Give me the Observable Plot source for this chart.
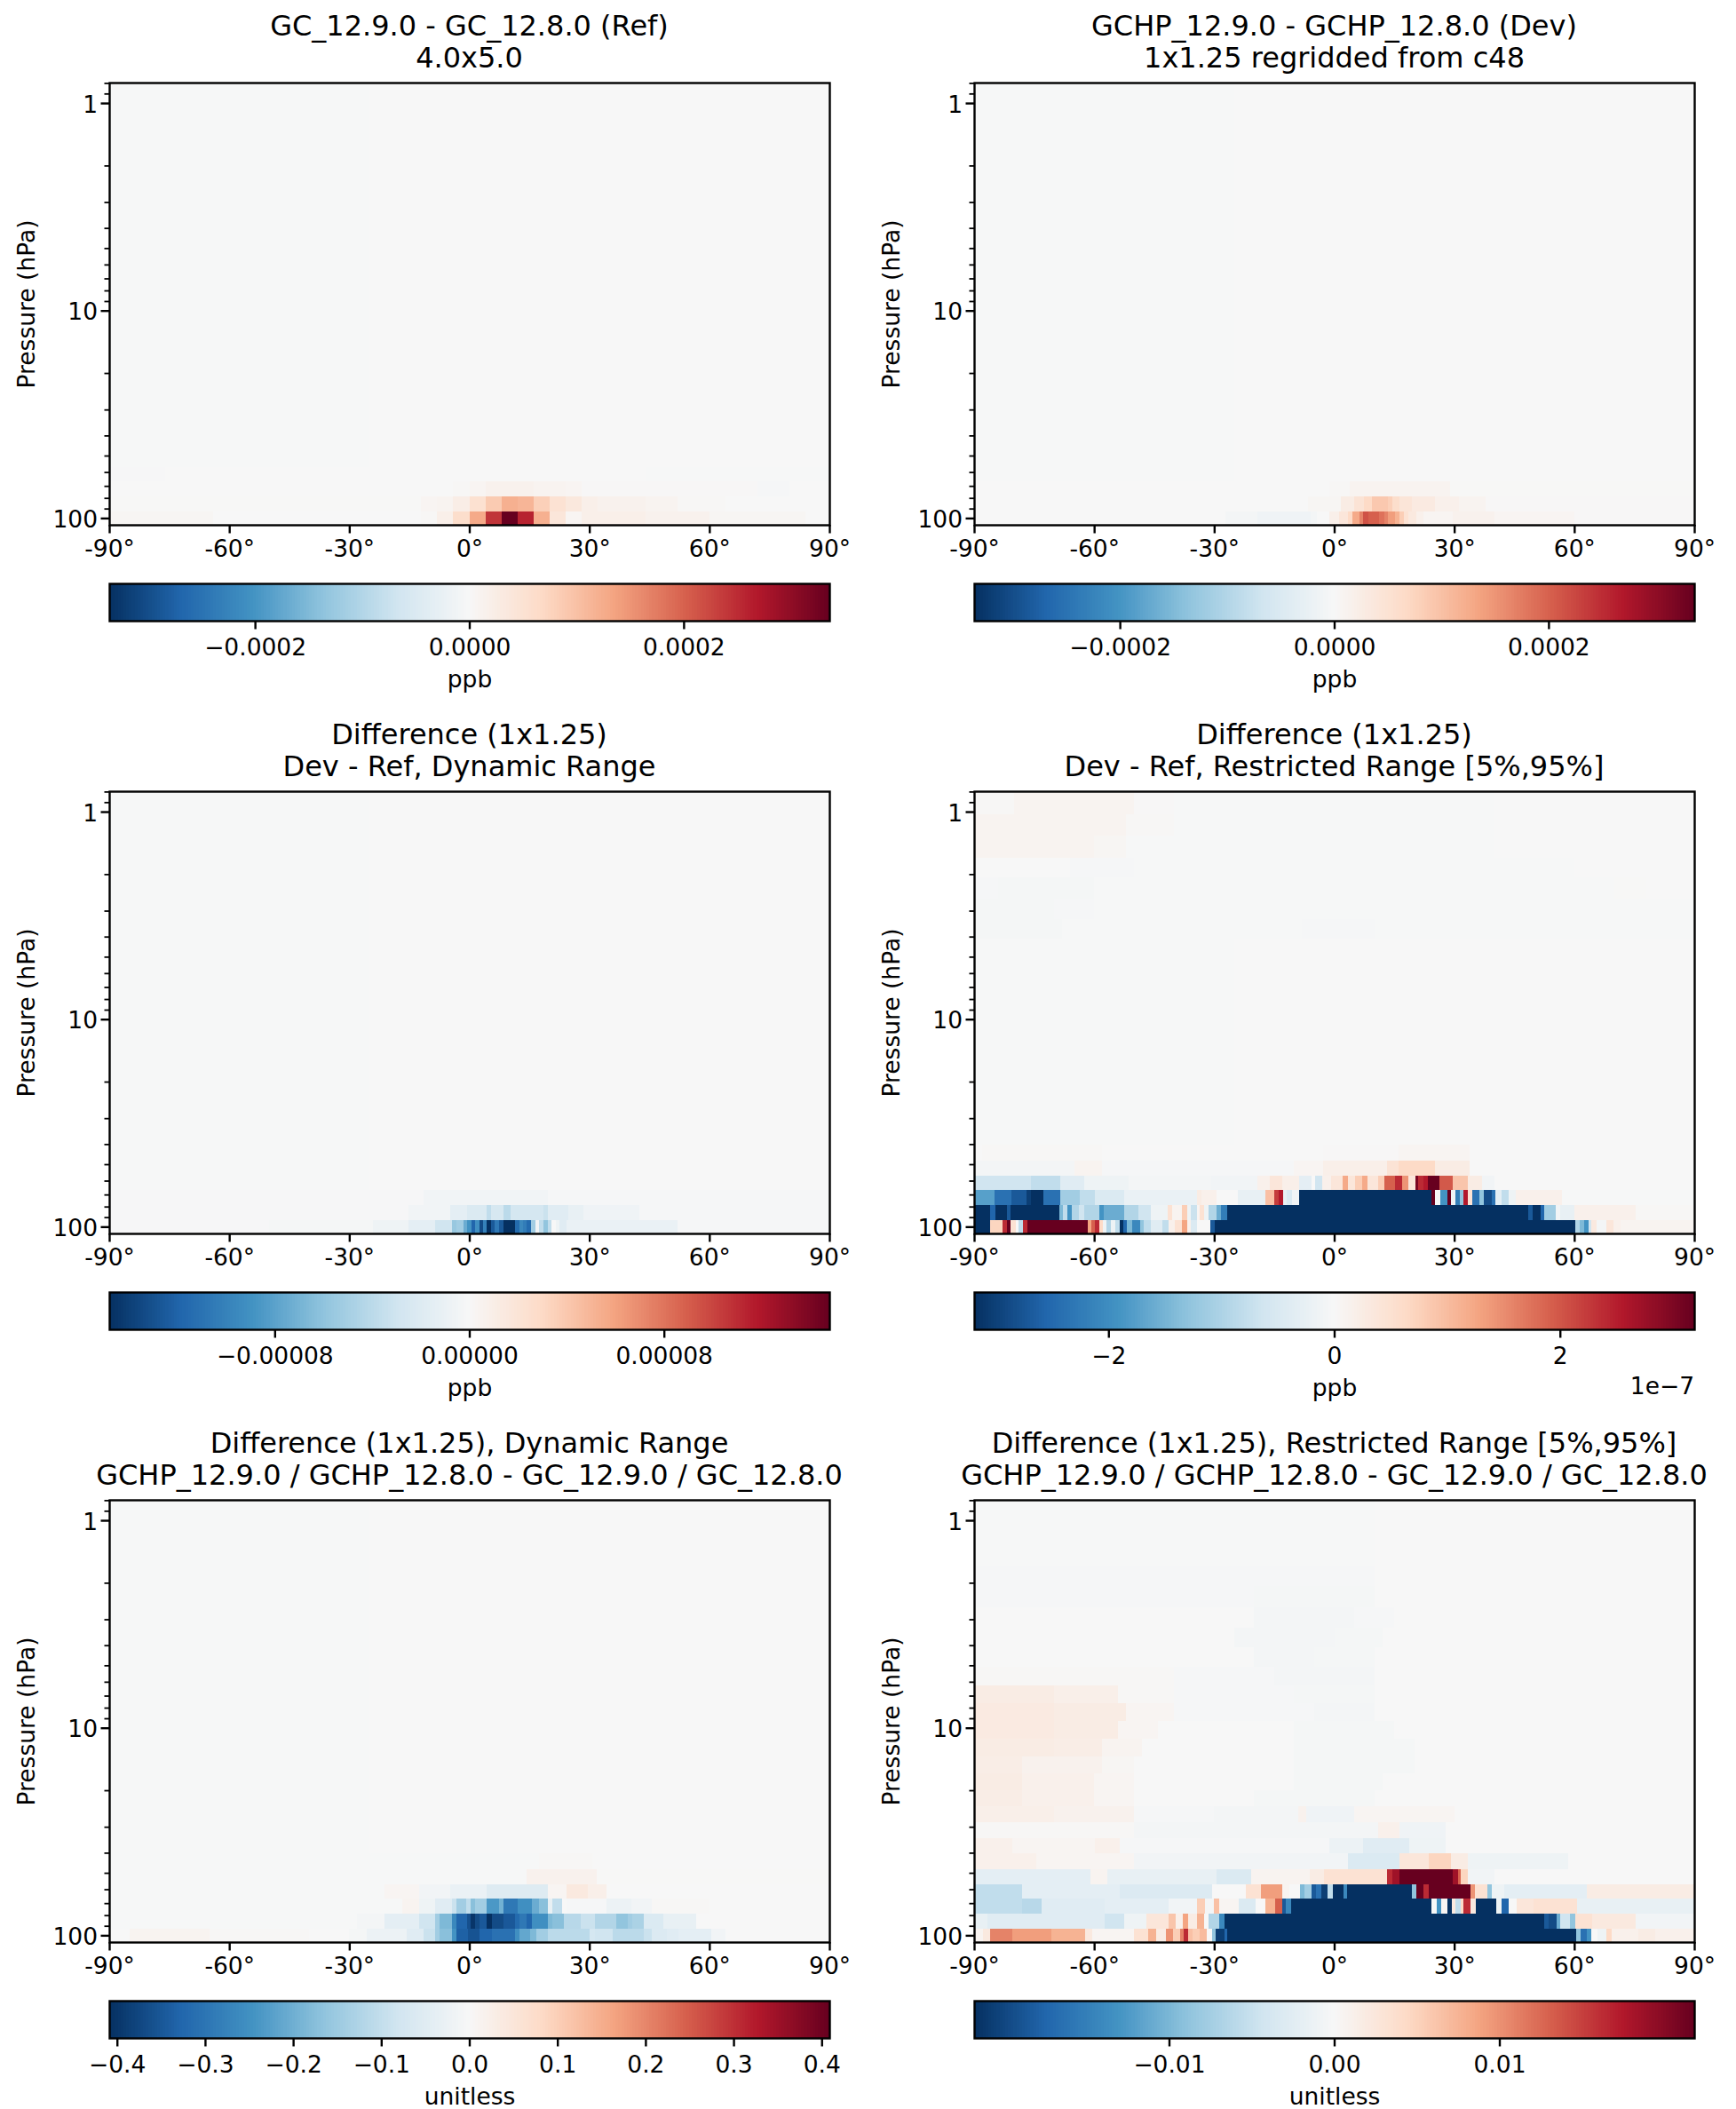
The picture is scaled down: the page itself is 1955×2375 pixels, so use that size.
<!DOCTYPE html>
<html><head><meta charset="utf-8">
<script src="https://cdn.jsdelivr.net/npm/d3@7"></script>
<script src="https://cdn.jsdelivr.net/npm/@observablehq/plot@0.6"></script>
<style>
html,body{margin:0;padding:0;background:#fff}
#fig{position:relative;width:1955px;height:2375px;font-family:"DejaVu Sans";color:#000;overflow:hidden}
#fig svg{position:absolute;max-width:none;overflow:visible;background:transparent}
.title{position:absolute;width:1100px;text-align:center;font-size:32px;line-height:36px;white-space:nowrap}
.offset{position:absolute;font-size:26.5px;text-align:right}
</style></head><body><div id="fig"></div>
<script>
// Pressure level edges (hPa), bottom of the plot first
const pressureEdges = [107.8,93,78.6,66.5,56.8,48.2,40.4,33.9,28.5,23.9,20,16.6,13.7,11.29,9.27,7.61,6.25,5.08,4.08,3.3,2.62,2.08,1.67,1.3,1.03,0.797];
const latTicks = [-90,-60,-30,0,30,60,90];
const majorP = [1,10,100];
const minorP = [0.8,0.9,2,3,4,5,6,7,8,9,20,30,40,50,60,70,80,90];
const colorStops = [-100,-80,-60,-40,-20,0,20,40,60,80,100];
const colorRange = ["#053061","#2166ac","#4393c3","#92c5de","#d1e5f0","#f7f7f7","#fddbc7","#f4a582","#d6604d","#b2182b","#67001f"];

// Runs per level: [start latitude, value as percent of the panel's colour limit]
const quietRow = [[-90,-0.5],[-25,-0.25],[25,0.1]];
const refRows = {
 0:[[-90,1.5],[-64,0.2],[-12,1],[-8,6],[-4,18],[0,38],[4,72],[8,100],[12,77],[16,36],[20,12],[24,2],[28,6],[44,4],[60,1.5],[84,0]],
 1:[[-90,0.3],[-12,2],[-8,3],[-4,7],[0,16],[4,26],[8,36],[12,34],[16,24],[20,15],[24,11],[28,6],[32,4],[44,3],[52,1],[64,0]],
 2:[[-90,-0.2],[-4,1],[0,2],[4,4],[16,3],[24,2],[28,0.5],[72,-0.8],[80,0]],
 3:[[-90,-0.7],[-76,0.1],[44,-0.3]]
};
const devRows = {
 0:[[-90,0],[-27.2,-2],[-19.1,-4],[-5.8,-2],[-4.3,0],[-1.3,6],[1.3,12],[3.5,20],[4.6,38],[6.4,50],[7.3,64],[8.6,60],[11.2,55],[12.6,50],[13.5,42],[15.3,35],[16.4,25],[17.5,15],[18.6,10],[20.5,5],[22.3,2],[29.7,4],[40,2],[60,0.5]],
 1:[[-90,0],[-6.5,1.5],[1.6,8],[5,14],[7.5,20],[9.4,27],[13.5,24],[14.6,18],[16.4,13],[19.4,9],[25.3,5],[31.2,3],[37.8,0.5]],
 2:[[-90,-0.2],[-1.3,1],[3.8,3],[29,0.3]]
};
const dynRows = {
 0:[[-90,-0.7],[-50,-1.5],[-24,-5],[-15.2,-10],[-8.5,-20],[-4.4,-38],[-3.3,-35],[-1.5,-50],[-0.5,-60],[0.5,-80],[1.5,-62],[2.6,-90],[3.5,-68],[4.4,-100],[5.5,-85],[6.4,-72],[7.4,-85],[8.5,-100],[11.5,-78],[12.6,-65],[13.5,-70],[14.4,-78],[15.5,-35],[16.5,-3],[17.4,-25],[18.5,-40],[19.6,-25],[20.5,0],[21.6,-5],[22.5,-12],[24.4,-7],[52.1,-1]],
 1:[[-90,-0.6],[-15.2,-3],[-4.8,-10],[-0.5,-15],[4.4,-25],[5.5,-17],[8.5,-27],[10.3,-18],[18.5,-22],[19.6,-12],[24.8,-8],[28.5,-4],[42.5,-1]],
 2:[[-90,-0.7],[-11.5,-3],[19.6,-1]]
};
const resRows = {
 0:[[-90,-100],[-85.9,22],[-82.8,75],[-81.8,100],[-80.9,15],[-79.6,0],[-78.8,-25],[-77.8,75],[-76.7,100],[-61.7,40],[-60.8,60],[-59.8,75],[-58.7,20],[-57.8,-5],[-56.9,-30],[-55.9,-5],[-54.7,-25],[-53.7,-100],[-52.7,-80],[-51.8,-45],[-50.5,-65],[-48.6,-40],[-47.7,-25],[-45.9,-12],[-42.9,-25],[-41.4,5],[-39.8,15],[-38,40],[-36.8,5],[-35.8,-15],[-34.3,0],[-30.9,-85],[-29.8,-100],[60.3,-30],[61.3,-45],[62.5,-60],[63.5,-20],[64.3,10],[65.5,-2],[68,12],[69.8,5],[71.6,3]],
 1:[[-90,-100],[-85.9,-80],[-84.6,-100],[-81.8,-85],[-80.9,-100],[-68.7,-45],[-67.7,-25],[-66.6,-60],[-65.6,-30],[-63.9,-20],[-62.4,-30],[-58.7,-60],[-57.5,-50],[-52.6,-30],[-49,-20],[-45.9,-5],[-41.6,15],[-40.4,3],[-38,25],[-36.8,-5],[-35.8,-22],[-34.3,2],[-33.7,15],[-32.5,-5],[-31.3,-30],[-29.5,-50],[-28.2,-70],[-26.8,-100],[48.5,-85],[49.5,-100],[51.5,-80],[52.5,-35],[55.4,-3],[56.4,-8],[60,5],[75.3,1]],
 2:[[-90,-55],[-84.9,-75],[-80.6,-85],[-77,-95],[-75.8,-100],[-72.7,-75],[-68.4,-35],[-63.6,-25],[-59.9,-15],[-52.6,-7],[-34.3,8],[-33.1,5],[-29.5,0],[-24,-8],[-17.3,30],[-14.9,70],[-13.9,80],[-12.8,-8],[-11.8,-15],[-10.6,-3],[-8.8,-100],[24.4,100],[25.3,0],[26.6,-60],[28.4,100],[29.2,-5],[30.2,-70],[31.4,-40],[32.3,80],[33.3,15],[34.5,-75],[36.3,-40],[37.5,-90],[39.4,-75],[40.3,-10],[41.8,-25],[43.6,-5],[45.4,5],[57,-0.5]],
 3:[[-90,-20],[-75.8,-25],[-68.4,-12],[-62.4,-5],[-51.4,-2],[-30.7,-3],[-19.1,5],[-16,12],[-13,6],[-8.8,-10],[-5.7,0],[-4.7,-20],[-2.9,5],[-0.8,12],[2.2,38],[3.4,12],[5.3,25],[7.1,38],[8.3,12],[11,25],[12.6,60],[15.2,75],[17,45],[18.6,12],[20.2,95],[21,75],[22.3,80],[23.5,100],[26.3,62],[29.6,28],[33.3,8],[36.9,-3],[40,0]],
 4:[[-90,-2],[-65,3],[-58,-1],[-10,2],[-2.7,6],[13.2,14],[16.2,20],[25.3,8],[33.9,0]],
 5:[[-90,0],[-88,1],[-58,0],[-2.7,0.5],[16,2],[33.9,-0.2]],
 18:[[-90,-1.5],[-68,-0.5],[-8,-0.8],[10,-0.3]],
 19:[[-90,-1.5],[-70,-1],[-60,-0.5]],
 20:[[-90,-1],[-84,-1.5],[-60,-0.5],[70,0.3],[78,0]],
 21:[[-90,0],[-66,-0.8],[-50,-0.3],[60,0.2]],
 22:[[-90,3],[-60,1.5],[-52,-0.3],[40,0.2]],
 23:[[-90,3],[-52,1],[-40,-0.3],[40,0.2]],
 24:[[-90,1],[-80,3],[-50,0.5],[-40,-0.3],[40,0.2]]
};
const ratioDynRows = {
 0:[[-90,0],[-85,3],[-65,1],[-40,0],[-30,-1.5],[-25.6,-6],[-15.6,-12],[-11.5,-22],[-8.5,-35],[-7.4,-42],[-4.4,-60],[-3.3,-82],[-0.4,-87],[2.6,-80],[5.6,-75],[11.5,-62],[12.6,-52],[15.2,-45],[16.7,-35],[19.6,-27],[30,-18],[31.5,-20],[35.9,-27],[43.7,-22],[45.6,-14],[49.3,-12],[52.2,-10],[60.4,-3],[64.1,0]],
 1:[[-90,-0.3],[-28,-2],[-21.1,-10],[-12.6,-20],[-8.5,-35],[-7.4,-45],[-4.4,-65],[-3.3,-80],[-0.5,-88],[0.4,-98],[1.5,-90],[2.6,-85],[4.4,-100],[5.6,-90],[8.5,-85],[11.5,-78],[12.6,-72],[14.4,-80],[15.6,-62],[19.6,-45],[20.7,-42],[23.7,-28],[27.8,-22],[31.5,-30],[36.7,-40],[39.6,-35],[40.7,-32],[43.7,-15],[48.5,-8],[56.7,0]],
 2:[[-90,-0.5],[-16.7,3],[-12.6,-5],[-8.5,-12],[-4.4,-22],[-3.3,-35],[-0.7,-25],[0.4,-42],[1.5,-35],[4.4,-58],[7.4,-48],[8.5,-72],[12.2,-62],[15.6,-50],[17.4,-42],[19.6,-8],[20.7,-25],[23.3,0],[24.4,-1],[34.4,-6],[40.4,-3],[45.6,1],[60,0]],
 3:[[-90,-0.5],[-21.1,2],[-12.6,-3],[-4.8,-7],[4.4,-13],[19.6,2],[24.4,10],[29.6,6],[34.4,0]],
 4:[[-90,-0.5],[14.4,4],[31.9,0.3]],
 5:[[-90,-0.5],[17.4,1],[30.7,0]]
};
const ratioResRows = {
 0:[[-90,3],[-87.8,10],[-86,50],[-80.5,42],[-70.8,35],[-62.2,10],[-60.4,2],[-50,15],[-46.4,35],[-44.6,8],[-42.1,45],[-40.3,25],[-38.5,50],[-37.6,75],[-36.6,30],[-35.4,25],[-33.6,32],[-31.8,0],[-30.6,-40],[-29.6,-95],[-27.5,-80],[-26.7,-100],[60.5,-40],[61.5,-75],[63.2,-60],[64.2,0],[65.7,-5],[68.1,20],[69.3,5],[76,8],[80.3,5]],
 1:[[-90,-8],[-86.6,-12],[-57.4,-20],[-52.5,-5],[-47,12],[-41.5,28],[-39.7,5],[-37.9,40],[-36.6,8],[-34.2,35],[-32.6,0],[-31.5,-30],[-28.7,-65],[-27.5,-100],[52.6,-85],[53.7,-90],[55.7,-50],[56.5,-20],[59,-40],[60.2,15],[64.4,10],[75.4,-3]],
 2:[[-90,-25],[-78,-28],[-73.2,-12],[-57.4,-10],[-41.5,-3],[-34.2,25],[-32.4,-2],[-30,30],[-28.7,2],[-23.9,-15],[-19.6,0],[-17.2,35],[-14.7,60],[-12.9,-85],[-12,-65],[-10.8,-100],[24.3,0],[25.7,-60],[26.7,2],[28.3,-100],[29.4,10],[30.3,-25],[31.6,20],[32.4,75],[34,10],[35.5,-100],[40.5,-5],[41.9,-80],[43.7,0],[45.6,12],[49.8,15],[60.8,-8]],
 3:[[-90,-25],[-78,-10],[-53.7,-14],[-30.6,0],[-22,15],[-18.4,42],[-12.9,3],[-11.1,0],[-8.6,-45],[-7.4,-35],[-5.6,-85],[-4.6,-75],[-3.2,-95],[-1.6,-25],[-0.4,-100],[2.3,-65],[3.3,-100],[19.4,-40],[20.6,100],[22.4,75],[23.6,100],[34,45],[35.2,15],[38.3,-40],[39.5,-5],[42.5,-10],[63.2,8]],
 4:[[-90,-10],[-61,3],[-56.7,-8],[-29.3,-15],[-20.8,3],[-6.2,8],[-2.5,15],[13.3,75],[14.5,85],[16.3,100],[29.7,85],[31,60],[31.6,22],[33.4,-3],[40.1,0]],
 5:[[-90,5],[-74.4,2],[-50,-3],[3.5,-15],[16.3,12],[23.6,22],[29.1,8],[33.4,-5],[58.4,0]],
 6:[[-90,5],[-80.5,2],[-59.8,5],[-53.7,-1],[-1.3,-6],[7.2,-12],[18.8,-5],[27.9,0]],
 7:[[-90,1],[-50,-2],[10.9,5],[16.3,-4],[27.9,0]],
 8:[[-90,6],[-70,4],[-50,-1],[-30,-2],[-9,4],[-7,-4],[5,2],[30,0]],
 9:[[-90,7],[-78,5],[-60,2],[-50,0],[-20,-1.5],[10,0]],
 10:[[-90,8],[-78,5],[-60,2],[-50,0],[-10,-1.5],[12,0]],
 11:[[-90,7],[-78,4],[-58,1.5],[-50,0],[-10,-1.5],[20,0]],
 12:[[-90,8],[-70,7],[-58,3],[-48,0],[-10,-1.5],[20,0]],
 13:[[-90,9],[-70,8],[-54,2],[-44,0],[-10,-1.5],[15,0]],
 14:[[-90,9],[-70,8],[-52,2],[-40,-0.8],[-5,-2],[10,0]],
 15:[[-90,8],[-70,6],[-54,1],[-40,-0.8],[-10,-1.5],[10,0]],
 16:[[-90,1],[-40,-1],[-15,-2],[10,0]],
 17:[[-90,0],[-20,-2],[-5,-1.5],[10,0]],
 18:[[-90,0],[-25,-2],[0,-1.5],[12,0]],
 19:[[-90,0],[-20,-2],[5,-1],[15,0]],
 20:[[-90,-1],[-20,-1.5],[10,0]],
 21:[[-90,-1],[-15,-1.2],[10,0]],
 22:[[-90,-0.5],[10,0]],
 23:[[-90,-0.5],[10,0]],
 24:[[-90,-0.5],[10,0]]
};

const titles = [
 ["GC_12.9.0 - GC_12.8.0 (Ref)","4.0x5.0"],
 ["GCHP_12.9.0 - GCHP_12.8.0 (Dev)","1x1.25 regridded from c48"],
 ["Difference (1x1.25)","Dev - Ref, Dynamic Range"],
 ["Difference (1x1.25)","Dev - Ref, Restricted Range [5%,95%]"],
 ["Difference (1x1.25), Dynamic Range","GCHP_12.9.0 / GCHP_12.8.0 - GC_12.9.0 / GC_12.8.0"],
 ["Difference (1x1.25), Restricted Range [5%,95%]","GCHP_12.9.0 / GCHP_12.8.0 - GC_12.9.0 / GC_12.8.0"]
];
const limits = [0.000336,0.000336,0.000148,3.19e-7,0.4088,0.0218];
const rowsByPanel = [refRows,devRows,dynRows,resRows,ratioDynRows,ratioResRows];
const barTicks = [
 [-0.0002,0,0.0002],[-0.0002,0,0.0002],[-0.00008,0,0.00008],[-2e-7,0,2e-7],
 [-0.4,-0.3,-0.2,-0.1,0,0.1,0.2,0.3,0.4],[-0.01,0,0.01]
];
const barDigits = [4,4,5,0,1,2];
const barScale = [1,1,1,1e7,1,1];
const barUnits = ["ppb","ppb","ppb","ppb","unitless","unitless"];

const fig = document.getElementById("fig");
const fontPx = 26.5;
const baseStyle = {fontFamily:"DejaVu Sans",fontSize:fontPx+"px",background:"transparent",color:"#000",maxWidth:"none",overflow:"visible"};
const stroke = 2.4;

function colorScale(limit){
  return {type:"linear",domain:colorStops.map(p=>p/100*limit),range:colorRange,interpolate:"rgb",clamp:true};
}
function place(svg,left,top){svg.style.left=left+"px";svg.style.top=top+"px";fig.appendChild(svg);}

rowsByPanel.forEach((rows,i)=>{
  const col=i%2,row=Math.floor(i/2);
  const frameLeft=col?1097:123, offY=row*798, limit=limits[i];
  const cells=[];
  for(let k=0;k<pressureEdges.length-1;k++){
    const runs=rows[k]||quietRow;
    runs.forEach((r,j)=>{
      cells.push({lat1:r[0],lat2:j+1<runs.length?runs[j+1][0]:90,p1:pressureEdges[k],p2:pressureEdges[k+1],value:r[1]/100*limit});
    });
  }
  const panel=Plot.plot({
    width:123+811+40,height:93+498+50,
    marginLeft:123,marginRight:40,marginTop:93,marginBottom:50,
    style:baseStyle,
    x:{domain:[-90,90]},
    y:{type:"log",domain:[107.8,0.797]},
    color:colorScale(limit),
    marks:[
      Plot.rect(cells,{x1:"lat1",x2:"lat2",y1:"p1",y2:"p2",fill:"value",shapeRendering:"crispEdges"}),
      Plot.frame({stroke:"#000",strokeWidth:stroke}),
      Plot.axisX({ticks:latTicks,tickFormat:d=>d+"°",tickSize:9.5,tickPadding:7,strokeWidth:stroke,label:null,fontSize:fontPx}),
      Plot.axisY({ticks:minorP,tickFormat:()=>"",tickSize:5.5,strokeWidth:1.8,label:null}),
      Plot.axisY({ticks:majorP,tickFormat:()=>"",tickSize:9.5,strokeWidth:stroke,label:"Pressure (hPa)",labelAnchor:"center",labelArrow:"none",labelOffset:103,fontSize:fontPx}),
      Plot.axisY({ticks:majorP,tickFormat:d=>String(d),tickSize:0,tickPadding:13.5,dy:1.5,label:null,fontSize:fontPx})
    ]
  });
  place(panel,frameLeft-123,offY);

  const ramp=d3.range(256).map(n=>({x1:-limit+2*limit*n/256,x2:-limit+2*limit*(n+1)/256,v:-limit+2*limit*(n+0.5)/256}));
  const fmt=d=>{const s=Math.abs(d*barScale[i]).toFixed(barDigits[i]);return (d<0?"\u2212":"")+s;};
  const bar=Plot.plot({
    width:123+811+40,height:42+90,
    marginLeft:123,marginRight:40,marginTop:0,marginBottom:90,
    style:baseStyle,
    x:{domain:[-limit,limit]},
    color:colorScale(limit),
    marks:[
      Plot.rectX(ramp,{x1:"x1",x2:"x2",fill:"v",shapeRendering:"crispEdges"}),
      Plot.frame({stroke:"#000",strokeWidth:stroke}),
      Plot.axisX({ticks:barTicks[i],tickFormat:fmt,tickSize:9.5,tickPadding:10,strokeWidth:stroke,label:barUnits[i],labelAnchor:"center",labelArrow:"none",labelOffset:74,fontSize:fontPx})
    ]
  });
  place(bar,frameLeft-123,657+offY);

  const t=document.createElement("div");
  t.className="title";
  t.style.left=(frameLeft+405.5-550)+"px";
  t.style.top=(11+offY)+"px";
  t.innerHTML=titles[i].join("<br>");
  fig.appendChild(t);
});
const off=document.createElement("div");
off.className="offset";
off.textContent="1e\u22127";
off.style.right=(1955-1908)+"px";
off.style.top="1545px";
fig.appendChild(off);
</script></body></html>
